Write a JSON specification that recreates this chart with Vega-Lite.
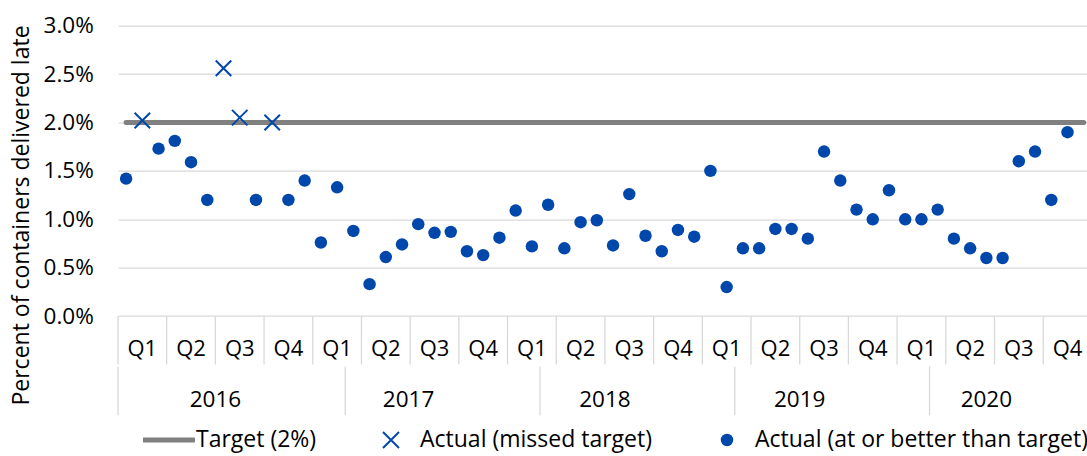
{
  "$schema": "https://vega.github.io/schema/vega-lite/v6.json",
  "autosize": "none",
  "width": 969,
  "height": 389.6,
  "padding": {"left": 118, "top": 25.7, "right": 0, "bottom": 40.7},
  "background": "white",
  "config": {
    "view": {"stroke": null},
    "font": "Open Sans",
    "legend": {"padding": 0, "labelFont": "Open Sans", "labelFontSize": 23, "labelColor": "#000000", "labelLimit": 0}
  },
  "datasets": {
    "actual": [
      {"m": 0, "v": 0.0142, "s": "ok"},
      {"m": 1, "v": 0.0202, "s": "missed"},
      {"m": 2, "v": 0.0173, "s": "ok"},
      {"m": 3, "v": 0.0181, "s": "ok"},
      {"m": 4, "v": 0.0159, "s": "ok"},
      {"m": 5, "v": 0.0120, "s": "ok"},
      {"m": 6, "v": 0.0256, "s": "missed"},
      {"m": 7, "v": 0.0205, "s": "missed"},
      {"m": 8, "v": 0.0120, "s": "ok"},
      {"m": 9, "v": 0.0200, "s": "missed"},
      {"m": 10, "v": 0.0120, "s": "ok"},
      {"m": 11, "v": 0.0140, "s": "ok"},
      {"m": 12, "v": 0.0076, "s": "ok"},
      {"m": 13, "v": 0.0133, "s": "ok"},
      {"m": 14, "v": 0.0088, "s": "ok"},
      {"m": 15, "v": 0.0033, "s": "ok"},
      {"m": 16, "v": 0.0061, "s": "ok"},
      {"m": 17, "v": 0.0074, "s": "ok"},
      {"m": 18, "v": 0.0095, "s": "ok"},
      {"m": 19, "v": 0.0086, "s": "ok"},
      {"m": 20, "v": 0.0087, "s": "ok"},
      {"m": 21, "v": 0.0067, "s": "ok"},
      {"m": 22, "v": 0.0063, "s": "ok"},
      {"m": 23, "v": 0.0081, "s": "ok"},
      {"m": 24, "v": 0.0109, "s": "ok"},
      {"m": 25, "v": 0.0072, "s": "ok"},
      {"m": 26, "v": 0.0115, "s": "ok"},
      {"m": 27, "v": 0.0070, "s": "ok"},
      {"m": 28, "v": 0.0097, "s": "ok"},
      {"m": 29, "v": 0.0099, "s": "ok"},
      {"m": 30, "v": 0.0073, "s": "ok"},
      {"m": 31, "v": 0.0126, "s": "ok"},
      {"m": 32, "v": 0.0083, "s": "ok"},
      {"m": 33, "v": 0.0067, "s": "ok"},
      {"m": 34, "v": 0.0089, "s": "ok"},
      {"m": 35, "v": 0.0082, "s": "ok"},
      {"m": 36, "v": 0.0150, "s": "ok"},
      {"m": 37, "v": 0.0030, "s": "ok"},
      {"m": 38, "v": 0.0070, "s": "ok"},
      {"m": 39, "v": 0.0070, "s": "ok"},
      {"m": 40, "v": 0.0090, "s": "ok"},
      {"m": 41, "v": 0.0090, "s": "ok"},
      {"m": 42, "v": 0.0080, "s": "ok"},
      {"m": 43, "v": 0.0170, "s": "ok"},
      {"m": 44, "v": 0.0140, "s": "ok"},
      {"m": 45, "v": 0.0110, "s": "ok"},
      {"m": 46, "v": 0.0100, "s": "ok"},
      {"m": 47, "v": 0.0130, "s": "ok"},
      {"m": 48, "v": 0.0100, "s": "ok"},
      {"m": 49, "v": 0.0100, "s": "ok"},
      {"m": 50, "v": 0.0110, "s": "ok"},
      {"m": 51, "v": 0.0080, "s": "ok"},
      {"m": 52, "v": 0.0070, "s": "ok"},
      {"m": 53, "v": 0.0060, "s": "ok"},
      {"m": 54, "v": 0.0060, "s": "ok"},
      {"m": 55, "v": 0.0160, "s": "ok"},
      {"m": 56, "v": 0.0170, "s": "ok"},
      {"m": 57, "v": 0.0120, "s": "ok"},
      {"m": 58, "v": 0.0190, "s": "ok"}
    ],
    "target": [
      {"m0": 0, "m1": 59, "t": 0.02}
    ],
    "quarters": [
      {"m": 1, "q": "Q1"}, {"m": 4, "q": "Q2"}, {"m": 7, "q": "Q3"}, {"m": 10, "q": "Q4"},
      {"m": 13, "q": "Q1"}, {"m": 16, "q": "Q2"}, {"m": 19, "q": "Q3"}, {"m": 22, "q": "Q4"},
      {"m": 25, "q": "Q1"}, {"m": 28, "q": "Q2"}, {"m": 31, "q": "Q3"}, {"m": 34, "q": "Q4"},
      {"m": 37, "q": "Q1"}, {"m": 40, "q": "Q2"}, {"m": 43, "q": "Q3"}, {"m": 46, "q": "Q4"},
      {"m": 49, "q": "Q1"}, {"m": 52, "q": "Q2"}, {"m": 55, "q": "Q3"}, {"m": 58, "q": "Q4"}
    ],
    "years": [
      {"m": 5.5, "year": "2016"},
      {"m": 17.4, "year": "2017"},
      {"m": 29.5, "year": "2018"},
      {"m": 41.5, "year": "2019"},
      {"m": 53.0, "year": "2020"}
    ],
    "qdiv": [
      {"m": -0.5}, {"m": 2.5}, {"m": 5.5}, {"m": 8.5}, {"m": 11.5}, {"m": 14.5}, {"m": 17.5},
      {"m": 20.5}, {"m": 23.5}, {"m": 26.5}, {"m": 29.5}, {"m": 32.5}, {"m": 35.5}, {"m": 38.5},
      {"m": 41.5}, {"m": 44.5}, {"m": 47.5}, {"m": 50.5}, {"m": 53.5}, {"m": 56.5}
    ],
    "ydiv": [
      {"m": -0.5}, {"m": 13.5}, {"m": 25.5}, {"m": 37.5}, {"m": 49.5}
    ]
  },
  "layer": [
    {
      "data": {"name": "actual"},
      "transform": [{"filter": "datum.s === 'ok'"}],
      "mark": {"type": "point", "filled": true, "shape": "circle", "size": 155, "opacity": 0},
      "encoding": {
        "x": {"field": "m", "type": "quantitative", "scale": {"domain": [-0.5, 59.2], "nice": false, "zero": false}, "axis": null},
        "y": {
          "field": "v", "type": "quantitative",
          "scale": {"domain": [-0.01025, 0.03], "nice": false, "zero": false},
          "axis": {
            "title": "Percent of containers delivered late",
            "values": [0, 0.005, 0.01, 0.015, 0.02, 0.025, 0.03],
            "format": ".1%",
            "domain": false, "ticks": false, "tickSize": 0,
            "grid": true, "gridColor": "#d9d9d9", "gridWidth": 1.3,
            "labelFont": "Open Sans", "labelFontSize": 22.5, "labelColor": "#000000",
            "labelPadding": 24.7, "labelFlush": false, "labelOverlap": false,
            "titleFont": "Open Sans", "titleFontSize": 23, "titleFontWeight": "normal", "titleColor": "#000000",
            "titleX": -89.7, "titleY": 189.3, "titleAngle": -90, "titleAlign": "center", "titleBaseline": "alphabetic"
          }
        }
      }
    },
    {
      "data": {"name": "qdiv"},
      "mark": {"type": "rule", "color": "#d9d9d9", "strokeWidth": 1.3},
      "encoding": {
        "x": {"field": "m", "type": "quantitative", "axis": null},
        "y": {"datum": 0, "type": "quantitative"},
        "y2": {"datum": -0.005}
      }
    },
    {
      "data": {"name": "ydiv"},
      "mark": {"type": "rule", "color": "#d9d9d9", "strokeWidth": 1.3},
      "encoding": {
        "x": {"field": "m", "type": "quantitative", "axis": null},
        "y": {"datum": -0.0052, "type": "quantitative"},
        "y2": {"datum": -0.01025}
      }
    },
    {
      "data": {"name": "quarters"},
      "mark": {"type": "text", "font": "Open Sans", "fontSize": 22, "color": "#000000", "baseline": "alphabetic", "align": "center"},
      "encoding": {
        "x": {"field": "m", "type": "quantitative", "axis": null},
        "y": {"datum": -0.00412, "type": "quantitative"},
        "text": {"field": "q"}
      }
    },
    {
      "data": {"name": "years"},
      "mark": {"type": "text", "font": "Open Sans", "fontSize": 22.5, "color": "#000000", "baseline": "alphabetic", "align": "center"},
      "encoding": {
        "x": {"field": "m", "type": "quantitative", "axis": null},
        "y": {"datum": -0.00936, "type": "quantitative"},
        "text": {"field": "year"}
      }
    },
    {
      "data": {"name": "target"},
      "mark": {"type": "rule", "strokeWidth": 5, "strokeCap": "round"},
      "encoding": {
        "x": {"field": "m0", "type": "quantitative", "axis": null},
        "x2": {"field": "m1"},
        "y": {"field": "t", "type": "quantitative"},
        "color": {
          "datum": "Target (2%)",
          "scale": {"domain": ["Target (2%)"], "range": ["#808080"]},
          "legend": {"title": null, "orient": "none", "legendX": 22.5, "legendY": 385.8, "symbolType": "stroke", "symbolSize": 2704, "symbolStrokeWidth": 5, "labelOffset": -1.5}
        }
      }
    },
    {
      "data": {"name": "actual"},
      "transform": [{"filter": "datum.s === 'missed'"}],
      "mark": {"type": "point", "filled": false, "color": "#0047AB", "strokeWidth": 2, "size": 240, "opacity": 1},
      "encoding": {
        "x": {"field": "m", "type": "quantitative", "axis": null},
        "y": {"field": "v", "type": "quantitative"},
        "shape": {
          "datum": "Actual (missed target)",
          "scale": {"domain": ["Actual (missed target)"], "range": ["M-1,-1L1,1M-1,1L1,-1"]},
          "legend": {"title": null, "orient": "none", "legendX": 261.5, "legendY": 402.8, "symbolSize": 256, "symbolStrokeWidth": 2, "symbolStrokeColor": "#0047AB", "labelOffset": 17.5}
        }
      }
    },
    {
      "data": {"name": "actual"},
      "transform": [{"filter": "datum.s === 'ok'"}],
      "mark": {"type": "point", "filled": true, "shape": "circle", "size": 155, "opacity": 1},
      "encoding": {
        "x": {"field": "m", "type": "quantitative", "axis": null},
        "y": {"field": "v", "type": "quantitative"},
        "fill": {
          "datum": "Actual (at or better than target)",
          "scale": {"domain": ["Actual (at or better than target)"], "range": ["#0047AB"]},
          "legend": {"title": null, "orient": "none", "legendX": 597.5, "legendY": 402.8, "symbolType": "circle", "symbolSize": 155, "labelOffset": 16.5}
        }
      }
    }
  ]
}
